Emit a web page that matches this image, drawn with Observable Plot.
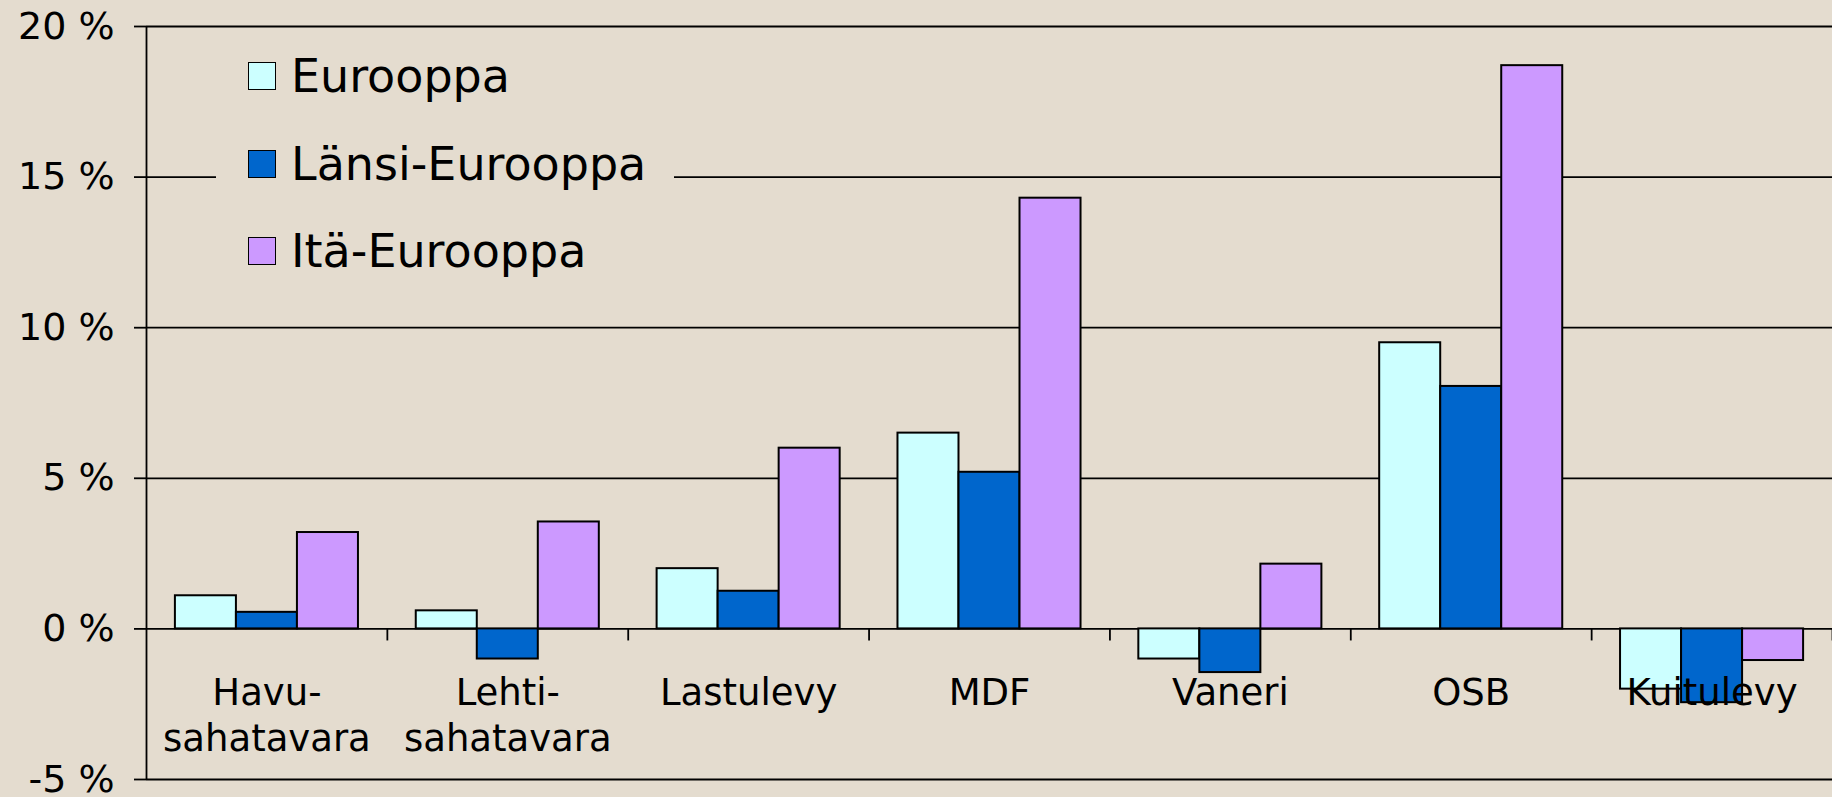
<!DOCTYPE html>
<html>
<head>
<meta charset="utf-8">
<script src="https://cdn.jsdelivr.net/npm/d3@7"></script>
<script src="https://cdn.jsdelivr.net/npm/@observablehq/plot@0.6"></script>
<style>
  html, body { margin: 0; padding: 0; background: #E4DCCF; }
  #wrap { position: relative; width: 1832px; height: 797px; overflow: hidden; background: #E4DCCF; font-family: "DejaVu Sans", Verdana, sans-serif; color: #000; }
  #legend { position: absolute; left: 216px; top: 40px; width: 458px; height: 248px; background: #E4DCCF; }
  .item { position: absolute; left: 32px; height: 50px; display: flex; align-items: center; font-size: 46px; line-height: 1; white-space: nowrap; }
  .sw { width: 26px; height: 26px; border: 1.5px solid #000; margin-right: 15px; box-sizing: content-box; }
  svg { overflow: visible; }
</style>
</head>
<body>
<div id="wrap"><div id="chart"></div><div id="legend"></div></div>
<script>
// ---- data ----
const categories = ["Havu-\nsahatavara", "Lehti-\nsahatavara", "Lastulevy", "MDF", "Vaneri", "OSB", "Kuitulevy"];
const seriesNames = ["Eurooppa", "Länsi-Eurooppa", "Itä-Eurooppa"];
const eurooppa = [1.1, 0.6, 2.0, 6.5, -1.0, 9.5, -2.0];
const lansiEurooppa = [0.55, -1.0, 1.25, 5.2, -1.45, 8.05, -2.45];
const itaEurooppa = [3.2, 3.55, 6.0, 14.3, 2.15, 18.7, -1.05];
const yTicks = [-5, 0, 5, 10, 15, 20];
const seriesColors = ["#CCFFFF", "#0066CC", "#CC99FF"];

// ---- build table ----
const seriesValues = [eurooppa, lansiEurooppa, itaEurooppa];
const groupPad = 0.24;                 // gap between category groups (fraction of a category)
const barW = (1 - groupPad) / seriesNames.length;
const rows = [];
categories.forEach((c, ci) => {
  seriesNames.forEach((s, si) => {
    const x1 = ci + groupPad / 2 + si * barW;
    rows.push({category: c, series: s, value: seriesValues[si][ci], x1, x2: x1 + barW});
  });
});

const chart = Plot.plot({
  width: 1832,
  height: 797,
  marginLeft: 146,
  marginRight: 0,
  marginTop: 26,
  marginBottom: 18,
  style: {fontFamily: "'DejaVu Sans', Verdana, sans-serif", fontSize: "38px", color: "#000", background: "transparent"},
  x: {domain: [0, categories.length], axis: null},
  y: {domain: [-5, 20], axis: null},
  color: {domain: seriesNames, range: seriesColors},
  marks: [
    Plot.ruleY(yTicks, {stroke: "#000", strokeWidth: 1.8}),
    Plot.rectY(rows, {x1: "x1", x2: "x2", y1: 0, y2: "value", fill: "series", stroke: "#000", strokeWidth: 2}),
    Plot.ruleX([0], {stroke: "#000", strokeWidth: 1.8}),
    Plot.ruleX(d3.range(1, categories.length + 1), {y1: 0, y2: -0.4, stroke: "#000", strokeWidth: 1.8}),
    Plot.axisY(yTicks, {tickSize: 12, tickPadding: 20, tickFormat: d => `${d} %`, fontSize: 38, strokeWidth: 1.8, label: null}),
    Plot.text(categories, {x: (d, i) => i + 0.5, y: 0, text: d => d, dy: 43, lineAnchor: "top", lineHeight: 1.25, fontSize: 37, fill: "#000"})
  ]
});
document.getElementById("chart").appendChild(chart);

// legend
const legend = document.getElementById("legend");
const centers = [36, 124, 211];
seriesNames.forEach((s, i) => {
  const it = document.createElement("div");
  it.className = "item";
  it.style.top = (centers[i] - 25) + "px";
  const sw = document.createElement("div");
  sw.className = "sw";
  sw.style.background = seriesColors[i];
  const tx = document.createElement("span");
  tx.textContent = s;
  it.appendChild(sw); it.appendChild(tx);
  legend.appendChild(it);
});
</script>
</body>
</html>
